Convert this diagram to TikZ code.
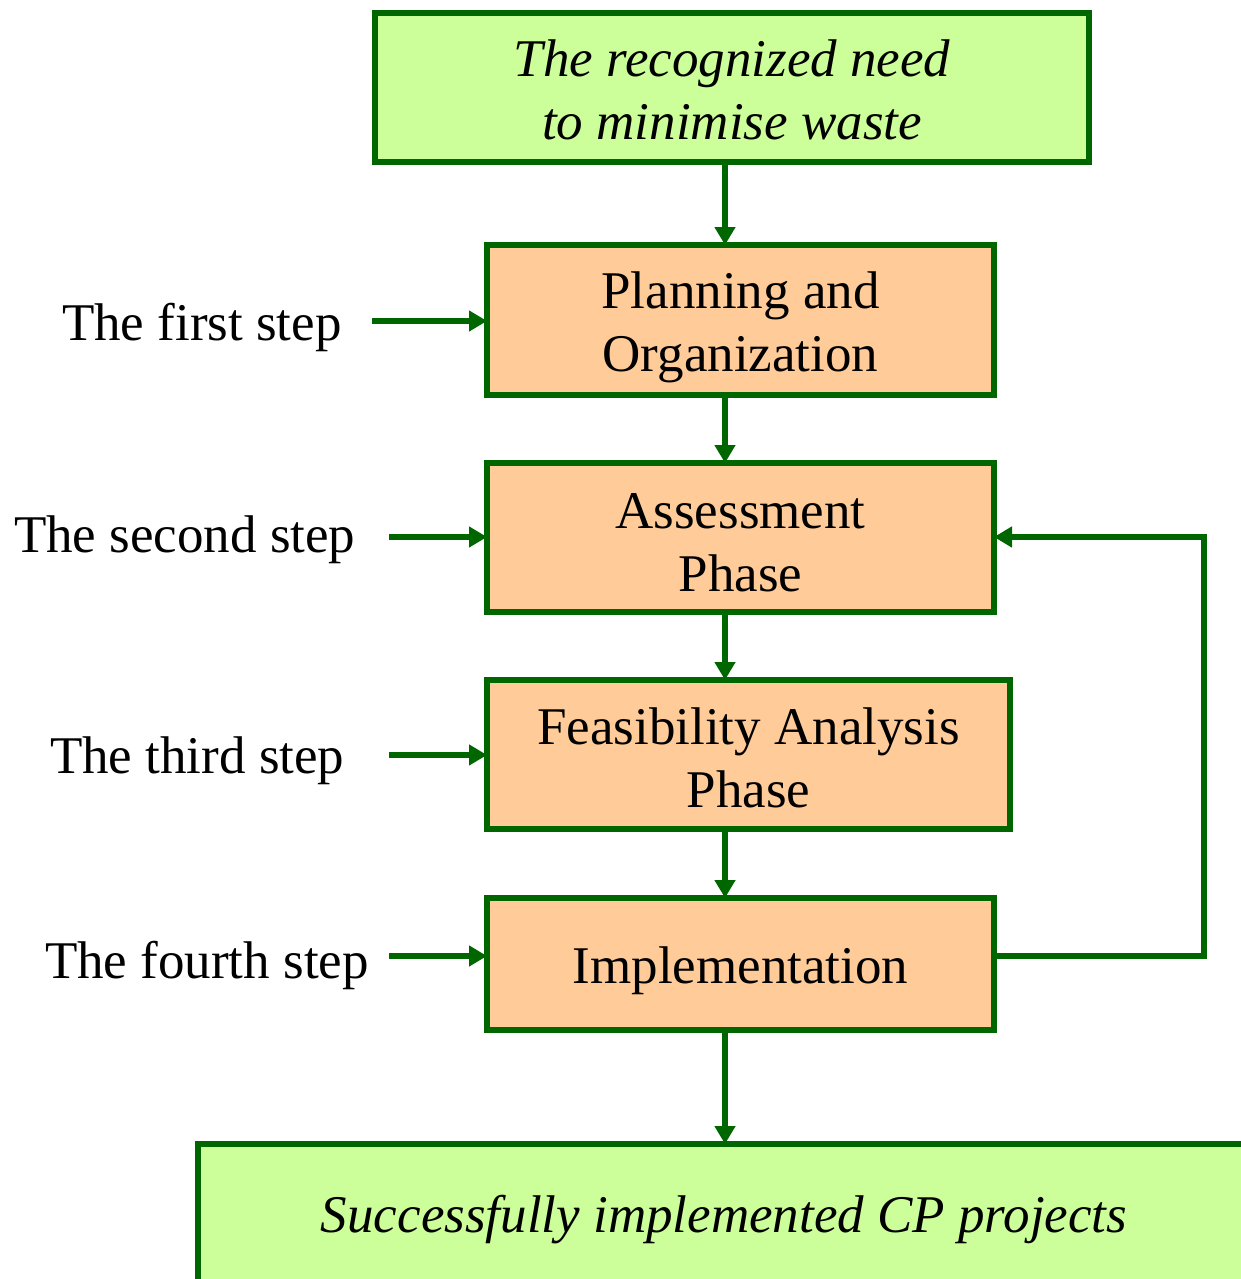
\documentclass[tikz,border=0pt]{standalone}
\usepackage{fontspec}
\setmainfont{Liberation Serif}
\usetikzlibrary{arrows.meta}
\definecolor{lgreen}{HTML}{CCFF99}
\definecolor{lorange}{HTML}{FFCC99}
\definecolor{dgreen}{HTML}{006600}
\newcommand\boxtext[2][4pt]{\raisebox{-#1}[\height][\depth]{\begin{tabular}{@{}c@{}}#2\end{tabular}}}
\begin{document}
\begin{tikzpicture}[x=1pt,y=-1pt,
  every node/.style={font=\fontsize{53}{63}\selectfont, inner sep=0pt, outer sep=0pt},
  endbox/.style={draw=dgreen, line width=6pt, fill=lgreen, align=center, font=\fontsize{53}{63}\selectfont\itshape},
  phasebox/.style={draw=dgreen, line width=6pt, fill=lorange, align=center},
  steplabel/.style={anchor=base west},
  conn/.style={draw=dgreen, line width=6pt, -{Triangle[length=18pt,width=20pt]}}]
\useasboundingbox (0,0) rectangle (1241,1279);
\clip (0,0) rectangle (1241,1279);
% boxes
\node[endbox, minimum width=714pt, minimum height=149pt] (need) at (732,87.5) {\boxtext[8pt]{The recognized need\\to minimise waste}};
\node[phasebox, minimum width=507pt, minimum height=150pt] (plan) at (740.5,320) {\boxtext[7pt]{Planning and\\Organization}};
\node[phasebox, minimum width=507pt, minimum height=149pt] (assess) at (740.5,537.5) {\boxtext[10pt]{Assessment\\Phase}};
\node[phasebox, minimum width=523pt, minimum height=149pt] (feas) at (748.5,754.5) {\boxtext[9pt]{Feasibility Analysis\\Phase}};
\node[phasebox, minimum width=507pt, minimum height=132pt] (impl) at (740.5,964) {\boxtext[7pt]{Implementation}};
\node[endbox, minimum width=1052pt, minimum height=142pt] (done) at (724,1215) {\boxtext[5pt]{Successfully implemented CP projects}};
% labels
\node[steplabel] (l1) at (62,340) {The first step};
\node[steplabel] (l2) at (14,552) {The second step};
\node[steplabel] (l3) at (50,773) {The third step};
\node[steplabel] (l4) at (45,978) {The fourth step};
\coordinate (s1) at (372,321);
\coordinate (s2) at (389,537);
\coordinate (s3) at (389,755);
\coordinate (s4) at (389,956);
\coordinate (spine) at (725,0);
\coordinate (loopx) at (1204,0);
% spine arrows
\draw[conn] (need.south -| spine) -- (plan.north -| spine);
\draw[conn] (plan.south -| spine) -- (assess.north -| spine);
\draw[conn] (assess.south -| spine) -- (feas.north -| spine);
\draw[conn] (feas.south -| spine) -- (impl.north -| spine);
\draw[conn] (impl.south -| spine) -- (done.north -| spine);
% step arrows
\draw[conn] (s1) -- (plan.west |- s1);
\draw[conn] (s2) -- (assess.west |- s2);
\draw[conn] (s3) -- (feas.west |- s3);
\draw[conn] (s4) -- (impl.west |- s4);
% feedback loop
\draw[conn, line join=miter] (impl.east |- s4) -- (loopx |- s4) -- (loopx |- s2) -- (assess.east |- s2);
\end{tikzpicture}
\end{document}
